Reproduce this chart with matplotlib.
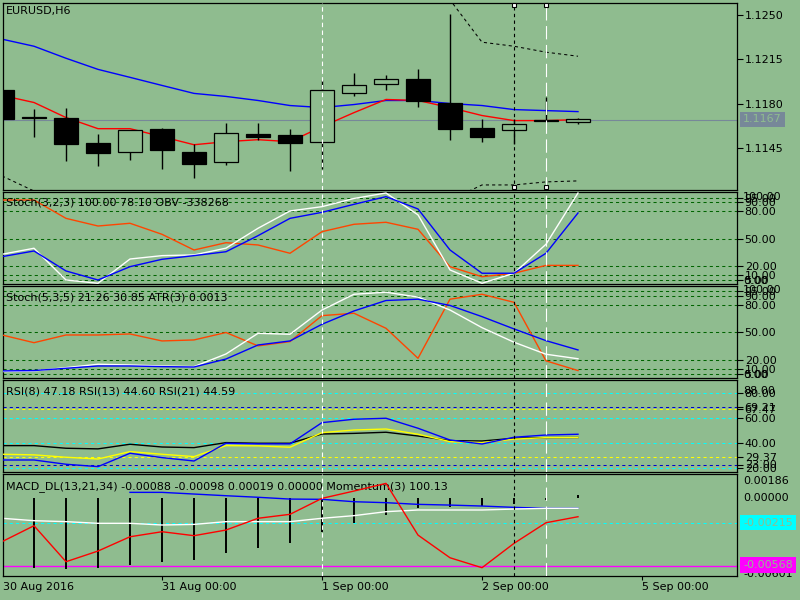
import numpy as np
import matplotlib.pyplot as plt
from matplotlib.transforms import blended_transform_factory as blend

plt.rcParams['font.family'] = ['DejaVu Sans']
FS = 8
BG = '#8FBC8F'

# EURUSD H6, bar 0 = 30 Aug 2016 00:00, 5 bars per day on the axis
opens  = [1.11903, 1.11690, 1.11689, 1.11490, 1.11416, 1.11601, 1.11418, 1.11336, 1.11561, 1.11553,
          1.11492, 1.11885, 1.11956, 1.11991, 1.11805, 1.11609, 1.11591, 1.11665, 1.11654]
highs  = [1.11903, 1.11760, 1.11768, 1.11561, 1.11593, 1.11609, 1.11482, 1.11646, 1.11646, 1.11601,
          1.11983, 1.12038, 1.12022, 1.12072, 1.12507, 1.11678, 1.11680, 1.11855, 1.11686]
lows   = [1.11678, 1.11532, 1.11349, 1.11309, 1.11357, 1.11285, 1.11214, 1.11317, 1.11514, 1.11270,
          1.11285, 1.11858, 1.11906, 1.11770, 1.11508, 1.11492, 1.11480, 1.11650, 1.11640]
closes = [1.11678, 1.11686, 1.11476, 1.11405, 1.11593, 1.11429, 1.11325, 1.11567, 1.11532, 1.11484,
          1.11903, 1.11948, 1.11996, 1.11818, 1.11595, 1.11535, 1.11638, 1.11670, 1.11678]
ma_slow = [1.12309, 1.12253, 1.12158, 1.12070, 1.12007, 1.11943, 1.11880, 1.11856, 1.11824, 1.11784,
           1.11768, 1.11792, 1.11824, 1.11824, 1.11800, 1.11784, 1.11752, 1.11744, 1.11736]
ma_fast = [1.11864, 1.11808, 1.11689, 1.11601, 1.11601, 1.11538, 1.11474, 1.11498, 1.11514, 1.11498,
           1.11617, 1.11728, 1.11832, 1.11824, 1.11768, 1.11705, 1.11665, 1.11665, 1.11673]
env_upper = [1.1280, 1.1280, 1.1280, 1.1280, 1.1280, 1.1280, 1.1280, 1.1280, 1.1280, 1.1280,
             1.1280, 1.1280, 1.1280, 1.1285, 1.1262, 1.12285, 1.12253, 1.12206, 1.12174]
env_lower = [1.11227, 1.11108, 1.1100, 1.1100, 1.1100, 1.1100, 1.1100, 1.1100, 1.1100, 1.1100,
             1.1100, 1.1100, 1.1100, 1.1100, 1.11036, 1.11156, 1.11156, 1.11180, 1.11188]
last_price = 1.1167

# Stoch(3,2,3) + OBV (OBV drawn in panel units)
st1_main = [32.8, 39.4, 4.6, 1.0, 27.6, 31.3, 32.1, 39.5, 61.3, 80.3, 85.0, 94.0, 100.0, 76.0, 15.6, 1.0, 12.0, 43.8, 100.0]
st1_sig  = [30.2, 36.4, 14.5, 4.6, 19.2, 27.3, 31.3, 35.6, 53.2, 72.2, 78.8, 87.6, 96.0, 82.5, 37.5, 12.0, 12.0, 33.9, 78.1]
obv_line = [92.3, 92.3, 72.2, 63.8, 66.8, 54.7, 37.5, 45.5, 43.0, 33.9, 57.6, 65.7, 67.9, 60.2, 19.2, 8.2, 12.0, 20.6, 20.6]

# Stoch(5,3,5) + ATR(3) (ATR drawn in panel units)
st2_main = [7.3, 8.0, 11.6, 15.3, 14.5, 13.4, 12.7, 26.5, 49.0, 48.0, 74.4, 91.6, 93.8, 88.5, 74.4, 55.2, 39.3, 26.2, 21.3]
st2_sig  = [8.0, 8.4, 10.9, 13.4, 13.4, 12.7, 12.3, 21.0, 36.3, 40.7, 58.9, 73.4, 84.8, 86.2, 79.4, 67.2, 53.8, 41.0, 30.9]
atr_line = [47.2, 38.8, 47.2, 47.2, 48.3, 40.7, 41.8, 49.9, 35.3, 40.0, 68.3, 70.9, 54.5, 21.8, 86.2, 91.6, 82.8, 19.0, 8.4]

# RSI 8 / 13 / 21
rsi8  = [26.6, 26.6, 23.2, 21.3, 32.0, 28.5, 25.8, 40.0, 39.5, 39.5, 56.5, 59.2, 60.0, 52.0, 42.6, 39.4, 44.8, 46.6, 47.2]
rsi13 = [31.2, 30.7, 28.8, 27.4, 33.3, 31.2, 29.3, 38.1, 37.9, 36.8, 48.5, 50.6, 51.4, 47.2, 41.3, 40.5, 43.3, 44.5, 44.6]
rsi21 = [38.1, 38.1, 36.0, 35.5, 39.2, 37.0, 36.5, 40.5, 40.0, 40.0, 47.4, 47.9, 48.8, 45.8, 42.1, 41.8, 44.0, 44.5, 44.6]

# MACD_DL(13,21,34) + Momentum(3) (momentum drawn in panel units)
macd_hist = [-0.00580, -0.00585, -0.00596, -0.00588, -0.00563, -0.00535, -0.00521, -0.00463, -0.00418, -0.00377,
             -0.00290, -0.00210, -0.00146, -0.00090, -0.00077, -0.00071, -0.00050, -0.00020, 0.00019]
macd_blue = [np.nan, np.nan, np.nan, np.nan, 0.00043, 0.00043, 0.00029, 0.00015, 0.00002, -0.00013,
             -0.00015, -0.00035, -0.00043, -0.00057, -0.00063, -0.00071, -0.00082, -0.00090, -0.00090]
macd_white = [-0.00173, -0.00193, -0.00201, -0.00215, -0.00215, -0.00229, -0.00224, -0.00201, -0.00201, -0.00201,
              -0.00173, -0.00151, -0.00118, -0.00104, -0.00104, -0.00104, -0.00096, -0.00090, -0.00090]
momentum = [-0.00368, -0.00235, -0.00535, -0.00446, -0.00327, -0.00285, -0.00318, -0.00271, -0.00173, -0.00140,
            -0.00007, 0.00054, 0.00118, -0.00313, -0.00502, -0.00585, -0.00382, -0.00210, -0.00160]

time_ticks = [0, 5, 10, 15, 20]
time_labels = ['30 Aug 2016', '31 Aug 00:00', '1 Sep 00:00', '2 Sep 00:00', '5 Sep 00:00']

x = np.arange(len(closes))
X0, X1 = (3 - 2) / 32, (737 - 2) / 32
TX = 3 / 734

fig = plt.figure(figsize=(8, 6), dpi=100, facecolor=BG)


def panel(top, bottom, ylim):
    ax = fig.add_axes([3 / 800, 1 - bottom / 600, 734 / 800, (bottom - top) / 600], facecolor=BG)
    ax.set_xlim(X0, X1)
    ax.set_ylim(*ylim)
    for s in ax.spines.values():
        s.set_color('black')
        s.set_linewidth(0.9)
    ax.yaxis.tick_right()
    ax.tick_params(axis='y', direction='out', length=4, width=0.8, pad=1.5, labelsize=FS)
    ax.tick_params(axis='x', length=0, labelbottom=False)
    ax.set_xticks([])
    return ax


def level(ax, v, c):
    ax.axhline(v, color=c, ls=(0, (3, 3)), lw=0.75, zorder=1)


def side_text(ax, v, s):
    ax.text(1 + 6 / 734, v, s, transform=blend(ax.transAxes, ax.transData),
            fontsize=FS, va='center', ha='left', clip_on=False)


ax1 = panel(3, 190, (1.11116, 1.12595))
ax2 = panel(192, 284, (0.2, 101.1))
ax3 = panel(286, 378, (0.3, 100.6))
ax4 = panel(380, 472, (17.0, 90.6))
ax5 = panel(474, 576, (-0.00654, 0.00196))

# main chart
ax1.axhline(last_price, color='#778899', lw=0.8, zorder=1)
ax1.plot(x, ma_slow, color='#0000FF', lw=1, zorder=2)
ax1.plot(x, ma_fast, color='#FF0000', lw=1, zorder=2)
ax1.plot(x, env_upper, color='black', lw=0.75, ls=(0, (3, 3)), zorder=2)
ax1.plot(x, env_lower, color='black', lw=0.75, ls=(0, (3, 3)), zorder=2)
ax1.vlines(x, lows, highs, color='black', lw=1, zorder=3)
o, c = np.array(opens), np.array(closes)
body_col = ['black' if cc < oo else BG for oo, cc in zip(o, c)]
ax1.bar(x, c - o, bottom=o, width=0.72, color=body_col, edgecolor='black', lw=0.9, zorder=4)
ax1.set_yticks([1.1250, 1.1215, 1.1180, 1.1145])
ax1.set_yticklabels(['1.1250', '1.1215', '1.1180', '1.1145'])
ax1.text(TX, 0.955, 'EURUSD,H6', transform=ax1.transAxes, fontsize=FS, va='center')
fig.text(743 / 800, 1 - 119.3 / 600, '1.1167', color=BG, fontsize=FS, va='center', ha='left',
         bbox=dict(facecolor='#778899', edgecolor='none', pad=2.0))

# stochastic panels
for ax in (ax2, ax3):
    for v in (95, 90, 80, 50, 20, 10, 5):
        level(ax, v, '#006400')
    ax.set_yticks([95, 90, 80, 50, 20, 10, 5])
    ax.set_yticklabels(['95.00', '90.00', '80.00', '50.00', '20.00', '10.00', '5.00'])
    side_text(ax, 96, '100.00')
    side_text(ax, 3.5, '0.00')

ax2.plot(x, obv_line, color='#FF4500', lw=1, zorder=3)
ax2.plot(x, st1_main, color='white', lw=1, zorder=3)
ax2.plot(x, st1_sig, color='#0000FF', lw=1, zorder=3)
ax2.text(TX, 0.89, 'Stoch(3,2,3) 100.00 78.10 OBV -338268', transform=ax2.transAxes, fontsize=FS, va='center')

ax3.plot(x, atr_line, color='#FF4500', lw=1, zorder=3)
ax3.plot(x, st2_main, color='white', lw=1, zorder=3)
ax3.plot(x, st2_sig, color='#0000FF', lw=1, zorder=3)
ax3.text(TX, 0.88, 'Stoch(5,3,5) 21.26 30.85 ATR(3) 0.0013', transform=ax3.transAxes, fontsize=FS, va='center')

# RSI panel
for v in (80, 60, 40, 20):
    level(ax4, v, '#00FFFF')
for v in (69.21, 23.0):
    level(ax4, v, '#0000CD')
for v in (67.47, 29.37):
    level(ax4, v, '#FFFF00')
rsi_levels = [80, 69.21, 67.47, 60, 40, 29.37, 23.0, 20]
ax4.set_yticks(rsi_levels)
ax4.set_yticklabels(['%.2f' % v for v in rsi_levels])
side_text(ax4, 81.6, '88.00')
ax4.plot(x, rsi21, color='black', lw=1, zorder=3)
ax4.plot(x, rsi13, color='#FFFF00', lw=1, zorder=3)
ax4.plot(x, rsi8, color='#0000FF', lw=1, zorder=3)
ax4.text(TX, 0.88, 'RSI(8) 47.18 RSI(13) 44.60 RSI(21) 44.59', transform=ax4.transAxes, fontsize=FS, va='center')

# MACD panel
level(ax5, -0.00215, '#00FFFF')
ax5.axhline(-0.00568, color='#FF00FF', lw=1, zorder=1)
ax5.set_yticks([])
ax5.vlines(x, 0, macd_hist, color='black', lw=1.4, zorder=2)
ax5.plot(x, macd_blue, color='#0000FF', lw=1, zorder=2)
ax5.plot(x, macd_white, color='white', lw=1, zorder=2)
ax5.plot(x, momentum, color='#FF0000', lw=1, zorder=6)
ax5.text(TX, 0.88, 'MACD_DL(13,21,34) -0.00088 -0.00098 0.00019 0.00000 Momentum(3) 100.13',
         transform=ax5.transAxes, fontsize=FS, va='center', zorder=5)
side_text(ax5, 0.00138, '0.00186')
side_text(ax5, 0.0, '0.00000')
side_text(ax5, -0.00638, '-0.00601')
fig.text(743 / 800, 1 - 522.5 / 600, '-0.00215', color=BG, fontsize=FS, va='center', ha='left',
         bbox=dict(facecolor='#00FFFF', edgecolor='none', pad=2.0))
fig.text(743 / 800, 1 - 565 / 600, '-0.00568', color=BG, fontsize=FS, va='center', ha='left',
         bbox=dict(facecolor='#FF00FF', edgecolor='none', pad=2.0))

# time axis
ax5.set_xticks(time_ticks[1:])
ax5.tick_params(axis='x', direction='out', length=3, width=0.8, labelbottom=False)
tr = blend(ax5.transData, ax5.transAxes)
for t, lab in zip(time_ticks, time_labels):
    ax5.text(max(t, 0.03), -0.11, lab, transform=tr, fontsize=FS, ha='left', va='center', clip_on=False)

# vertical marker lines through all windows
for ax in (ax1, ax2, ax3, ax4, ax5):
    ax.axvline(10, color='white', ls=(0, (4, 3)), lw=0.8, zorder=7)
    ax.axvline(16, color='black', ls=(0, (3, 3)), lw=0.8, zorder=7)
    ax.axvline(17, color='white', ls=(0, (12, 5)), lw=0.8, zorder=7)
ax1.plot([16, 16, 17, 17], [0.989, 0.016, 0.989, 0.016], 's', transform=blend(ax1.transData, ax1.transAxes),
         ms=3.5, mfc='white', mec='black', mew=0.8, zorder=8, clip_on=False)

fig.savefig('out.png', dpi=100, facecolor=BG)
